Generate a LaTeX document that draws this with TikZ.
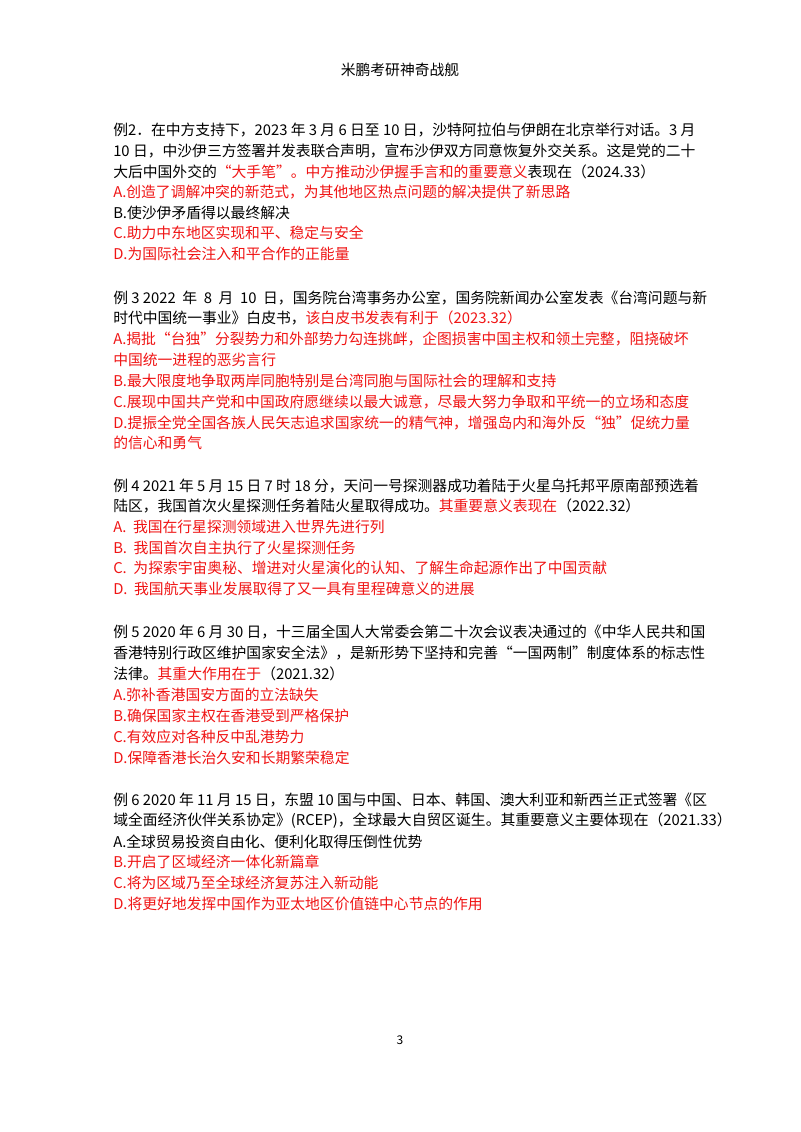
\documentclass[tikz,border=0pt]{standalone}
\usepackage{fontspec}
\setmainfont{Noto Sans CJK SC}
\definecolor{ans}{RGB}{240,20,20}
\newcommand{\R}[1]{{\color{ans}#1}}
\begin{document}
\begin{tikzpicture}[x=0.75pt,y=-0.75pt,
  ln/.style={anchor=west,inner sep=0pt,font=\fontsize{11.1pt}{14pt}\selectfont}]
\useasboundingbox[fill=white] (0,0) rectangle (800,1132);
\node[ln,anchor=center] (h) at (400,70) {米鹏考研神奇战舰};
% Ex 2
\node[ln] (a1) at (113,130) {例2．在中方支持下，2023 年 3 月 6 日至 10 日，沙特阿拉伯与伊朗在北京举行对话。3 月};
\node[ln] (a2) at (113,151) {10 日，中沙伊三方签署并发表联合声明，宣布沙伊双方同意恢复外交关系。这是党的二十};
\node[ln] (a3) at (113,172) {大后中国外交的\R{“大手笔”。中方推动沙伊握手言和的重要意义}表现在（2024.33）};
\node[ln] (a4) at (113,192) {\R{A.创造了调解冲突的新范式，为其他地区热点问题的解决提供了新思路}};
\node[ln] (a5) at (113,213) {B.使沙伊矛盾得以最终解决};
\node[ln] (a6) at (113,233) {\R{C.助力中东地区实现和平、稳定与安全}};
\node[ln] (a7) at (113,254) {\R{D.为国际社会注入和平合作的正能量}};
% Ex 3
\node[ln] (b1) at (113,298) {例 3 2022\ \ 年\ \ 8\ \ 月\ \ 10\ \ 日，国务院台湾事务办公室，国务院新闻办公室发表《台湾问题与新};
\node[ln] (b2) at (113,318) {时代中国统一事业》白皮书，\R{该白皮书发表有利于（2023.32）}};
\node[ln] (b3) at (113,339) {\R{A.揭批“台独”分裂势力和外部势力勾连挑衅，企图损害中国主权和领土完整，阻挠破坏}};
\node[ln] (b4) at (113,360) {\R{中国统一进程的恶劣言行}};
\node[ln] (b5) at (113,381) {\R{B.最大限度地争取两岸同胞特别是台湾同胞与国际社会的理解和支持}};
\node[ln] (b6) at (113,402) {\R{C.展现中国共产党和中国政府愿继续以最大诚意，尽最大努力争取和平统一的立场和态度}};
\node[ln] (b7) at (113,423) {\R{D.提振全党全国各族人民矢志追求国家统一的精气神，增强岛内和海外反“独”促统力量}};
\node[ln] (b8) at (113,443) {\R{的信心和勇气}};
% Ex 4
\node[ln] (c1) at (113,486) {例 4 2021 年 5 月 15 日 7 时 18 分，天问一号探测器成功着陆于火星乌托邦平原南部预选着};
\node[ln] (c2) at (113,506) {陆区，我国首次火星探测任务着陆火星取得成功。\R{其重要意义表现在}（2022.32）};
\node[ln] (c3) at (113,527) {\R{A.\ \ 我国在行星探测领域进入世界先进行列}};
\node[ln] (c4) at (113,548) {\R{B.\ \ 我国首次自主执行了火星探测任务}};
\node[ln] (c5) at (113,568) {\R{C.\ \ 为探索宇宙奥秘、增进对火星演化的认知、了解生命起源作出了中国贡献}};
\node[ln] (c6) at (113,589) {\R{D.\ \ 我国航天事业发展取得了又一具有里程碑意义的进展}};
% Ex 5
\node[ln] (d1) at (113,632) {例 5 2020 年 6 月 30 日，十三届全国人大常委会第二十次会议表决通过的《中华人民共和国};
\node[ln] (d2) at (113,653) {香港特别行政区维护国家安全法》，是新形势下坚持和完善“一国两制”制度体系的标志性};
\node[ln] (d3) at (113,674) {法律。\R{其重大作用在于}（2021.32）};
\node[ln] (d4) at (113,695) {\R{A.弥补香港国安方面的立法缺失}};
\node[ln] (d5) at (113,716) {\R{B.确保国家主权在香港受到严格保护}};
\node[ln] (d6) at (113,737) {\R{C.有效应对各种反中乱港势力}};
\node[ln] (d7) at (113,758) {\R{D.保障香港长治久安和长期繁荣稳定}};
% Ex 6
\node[ln] (e1) at (113,800) {例 6 2020 年 11 月 15 日，东盟 10 国与中国、日本、韩国、澳大利亚和新西兰正式签署《区};
\node[ln] (e2) at (113,821) {域全面经济伙伴关系协定》(RCEP)，全球最大自贸区诞生。其重要意义主要体现在（2021.33）};
\node[ln] (e3) at (113,842) {A.全球贸易投资自由化、便利化取得压倒性优势};
\node[ln] (e4) at (113,862) {\R{B.开启了区域经济一体化新篇章}};
\node[ln] (e5) at (113,883) {\R{C.将为区域乃至全球经济复苏注入新动能}};
\node[ln] (e6) at (113,904) {\R{D.将更好地发挥中国作为亚太地区价值链中心节点的作用}};
\node[ln,anchor=center,font=\fontsize{9pt}{11pt}\selectfont] (p) at (400,1040) {3};
\end{tikzpicture}
\end{document}
